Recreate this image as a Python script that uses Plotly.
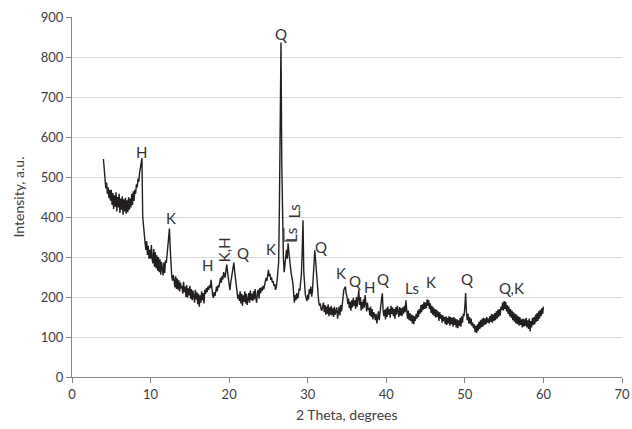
import plotly.graph_objects as go

# XRD scan: start angle and step (degrees 2-theta)
scan_start = 4.0
scan_step = 0.1

# Intensity (a.u.), one row per degree, 4.0 ... 60.0
intensity = [
    545, 518, 496, 472, 486, 458, 474, 447, 468, 441,
    468, 430, 460, 420, 454, 426, 462, 414, 450, 424,
    458, 410, 446, 418, 452, 406, 444, 414, 448, 408,
    442, 412, 450, 418, 446, 424, 458, 430, 464, 440,
    468, 458, 482, 474, 496, 488, 510, 522, 530, 547,
    400, 372, 350, 336, 318, 340, 305, 328, 296, 318,
    296, 330, 294, 284, 320, 276, 312, 272, 304, 266,
    300, 262, 294, 256, 288, 266, 254, 286, 260, 292,
    285, 305, 328, 350, 371, 322, 264, 250, 241, 255,
    240, 224, 252, 220, 246, 218, 242, 214, 236, 222,
    228, 208, 238, 212, 226, 200, 230, 198, 222, 204,
    228, 196, 220, 192, 216, 198, 186, 218, 194, 212,
    182, 208, 176, 204, 186, 214, 192, 210, 184, 218,
    208, 222, 212, 226, 218, 230, 222, 243, 219, 205,
    198, 212, 203, 220, 226, 214, 230, 224, 238, 248,
    236, 252, 244, 262, 255, 248, 268, 281, 262, 240,
    228, 217, 235, 250, 262, 276, 286, 264, 240, 222,
    214, 196, 206, 190, 214, 184, 208, 178, 204, 188,
    214, 184, 208, 180, 204, 210, 186, 216, 192, 208,
    190, 214, 194, 220, 198, 186, 212, 218, 196, 222,
    209, 224, 215, 228, 219, 232, 236, 248, 240, 262,
    268, 252, 258, 243, 249, 236, 240, 228, 232, 218,
    225, 240, 256, 287, 430, 650, 836, 530, 338, 302,
    262, 284, 305, 318, 296, 334, 312, 286, 270, 258,
    248, 236, 212, 186, 205, 192, 210, 196, 202, 221,
    216, 232, 258, 315, 392, 262, 218, 205, 198, 190,
    206, 194, 220, 208, 226, 201, 214, 250, 300, 317,
    292, 268, 228, 201, 188, 178, 184, 170, 166, 176,
    186, 162, 180, 156, 176, 158, 182, 152, 174, 156,
    178, 154, 172, 150, 176, 156, 164, 174, 146, 170,
    176, 154, 180, 164, 194, 200, 218, 222, 226, 208,
    202, 182, 196, 172, 188, 166, 192, 174, 198, 178,
    192, 170, 200, 176, 208, 218, 180, 200, 166, 188,
    170, 194, 174, 205, 184, 164, 186, 168, 172, 154,
    176, 150, 170, 144, 162, 156, 142, 158, 134, 156,
    164, 142, 170, 178, 196, 209, 164, 152, 168, 144,
    172, 150, 176, 156, 170, 148, 178, 158, 174, 152,
    170, 146, 174, 156, 178, 158, 150, 175, 154, 172,
    152, 174, 158, 178, 162, 192, 156, 146, 166, 142,
    160, 140, 156, 134, 154, 132, 152, 140, 158, 146,
    166, 150, 170, 158, 180, 162, 182, 168, 188, 170,
    186, 172, 194, 178, 192, 170, 184, 160, 178, 156,
    174, 152, 170, 148, 168, 150, 164, 140, 162, 146,
    156, 136, 154, 140, 150, 132, 152, 130, 148, 134,
    152, 128, 150, 132, 148, 126, 150, 130, 146, 124,
    144, 122, 142, 128, 148, 126, 152, 136, 158, 152,
    176, 210, 164, 142, 158, 134, 150, 132, 146, 128,
    136, 122, 132, 112, 128, 110, 132, 116, 138, 120,
    142, 124, 146, 126, 148, 130, 146, 132, 150, 136,
    146, 134, 152, 138, 158, 136, 156, 140, 160, 142,
    164, 146, 168, 150, 170, 154, 176, 168, 186, 166,
    190, 170, 188, 164, 180, 158, 176, 152, 170, 148,
    166, 142, 162, 138, 158, 134, 156, 132, 152, 128,
    150, 130, 144, 124, 146, 126, 144, 128, 148, 124,
    142, 120, 146, 114, 140, 124, 148, 130, 150, 132,
    156, 138, 160, 140, 164, 146, 168, 152, 172, 158,
    176,
]

# Phase labels
label_text = ["H", "K", "H", "K,H", "Q", "K", "Q", "Ls", "Ls", "Q",
              "K", "Q", "H", "Q", "Ls", "K", "Q", "Q,K"]
label_x = [8.87, 12.6, 17.2, 19.26, 21.8, 25.33, 26.56, 27.87, 28.25, 31.65,
           34.2, 36.0, 37.85, 39.6, 43.3, 45.7, 50.3, 55.96]
label_y = [563, 398, 280, 318, 311, 319, 857, 355, 414, 326,
           259, 241, 226, 245, 222, 238, 244, 222]
label_angle = [0, 0, 0, -90, 0, 0, 0, -90, -90, 0,
               0, 0, 0, 0, 0, 0, 0, 0]

# Leader line for the lower "Ls" label
leader_x = [26.98, 26.98, 28.6]
leader_y = [372, 340, 340]

x_ticks = [0, 10, 20, 30, 40, 50, 60, 70]
y_ticks = [0, 100, 200, 300, 400, 500, 600, 700, 800, 900]

FONT = "Lato, 'Open Sans', sans-serif"
TXT = "#404040"

fig = go.Figure()
fig.add_trace(go.Scatter(
    x0=scan_start, dx=scan_step, y=intensity, mode="lines",
    line=dict(color="#231f20", width=1.4), hoverinfo="skip", showlegend=False,
))
fig.add_trace(go.Scatter(
    x=leader_x, y=leader_y, mode="lines",
    line=dict(color="#231f20", width=1), hoverinfo="skip", showlegend=False,
))

for t, x, y, a in zip(label_text, label_x, label_y, label_angle):
    fig.add_annotation(x=x, y=y, text=t, showarrow=False, textangle=a,
                       xanchor="center", yanchor="middle",
                       font=dict(family=FONT, size=15, color="#333333"))

# Axis titles placed in paper coordinates
fig.add_annotation(xref="paper", yref="paper", x=0.5, y=0, yshift=-27,
                   text="2 Theta, degrees", showarrow=False,
                   xanchor="center", yanchor="top",
                   font=dict(family=FONT, size=14, color=TXT))
fig.add_annotation(xref="paper", yref="paper", x=0, y=0.5, xshift=-44,
                   text="Intensity, a.u.", showarrow=False, textangle=-90,
                   xanchor="right", yanchor="middle",
                   font=dict(family=FONT, size=14, color=TXT))

fig.update_layout(
    width=632, height=429,
    margin=dict(l=72, r=10, t=17, b=52, autoexpand=False),
    paper_bgcolor="white", plot_bgcolor="white",
    font=dict(family=FONT, size=13, color=TXT),
)
fig.update_xaxes(
    range=[0, 70], tickvals=x_ticks, showgrid=False, zeroline=False,
    showline=True, linecolor="#868686", linewidth=1,
    ticks="outside", ticklen=5, tickcolor="#868686",
    automargin=False, ticklabeloverflow="allow",
    tickfont=dict(size=13, color=TXT),
)
fig.update_yaxes(
    range=[0, 900], tickvals=y_ticks, showgrid=True, gridcolor="#d9d9d9",
    gridwidth=1, zeroline=False,
    showline=True, linecolor="#868686", linewidth=1,
    ticks="outside", ticklen=5, tickcolor="#868686",
    automargin=False, ticklabeloverflow="allow",
    tickfont=dict(size=13, color=TXT),
)

fig.write_html("out.html",
               config={"displayModeBar": False},
               post_script="document.body.style.margin='0px';")
